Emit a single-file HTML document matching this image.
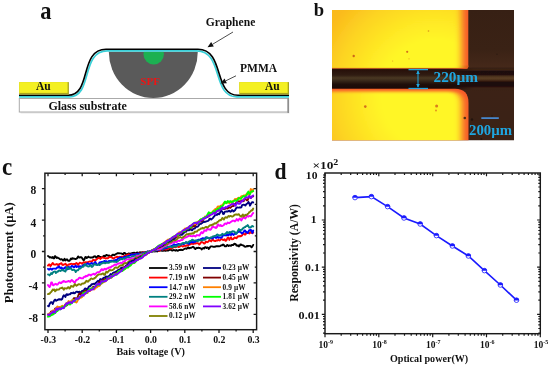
<!DOCTYPE html>
<html><head><meta charset="utf-8"><title>Figure</title>
<style>
html,body{margin:0;padding:0;background:#fff;}
body{width:550px;height:366px;overflow:hidden;}
svg{display:block;}
text{font-family:"Liberation Serif",serif;font-weight:bold;fill:#111;}
</style></head><body>
<svg width="550" height="366" viewBox="0 0 550 366">
<defs>
<radialGradient id="gold" gradientUnits="userSpaceOnUse" cx="435" cy="95" r="125">
<stop offset="0" stop-color="#fff626"/><stop offset="0.44" stop-color="#fff626"/><stop offset="0.64" stop-color="#fee424"/><stop offset="0.8" stop-color="#fdd422"/><stop offset="0.96" stop-color="#fbc01e"/><stop offset="1" stop-color="#faba1c"/>
</radialGradient>
<linearGradient id="dark" x1="0" y1="0" x2="0" y2="1">
<stop offset="0" stop-color="#372014"/><stop offset="0.3" stop-color="#3a2215"/><stop offset="0.45" stop-color="#46291a"/><stop offset="0.62" stop-color="#3c2216"/><stop offset="1" stop-color="#3a2216"/>
</linearGradient>
<linearGradient id="fib" x1="0" y1="0" x2="0" y2="1">
<stop offset="0" stop-color="#34160c"/><stop offset="0.1" stop-color="#28110a"/><stop offset="0.33" stop-color="#301c12"/><stop offset="0.46" stop-color="#4a3822"/><stop offset="0.58" stop-color="#39291a"/><stop offset="0.75" stop-color="#1f0f0a"/><stop offset="0.92" stop-color="#1a0a08"/><stop offset="1" stop-color="#2a0e08"/>
</linearGradient>
<linearGradient id="fibr" x1="0" y1="0" x2="0" y2="1">
<stop offset="0" stop-color="#40281a"/><stop offset="0.09" stop-color="#1f0d08"/><stop offset="0.25" stop-color="#200e08"/><stop offset="0.36" stop-color="#4a2f1b"/><stop offset="0.46" stop-color="#5c3f25"/><stop offset="0.57" stop-color="#4a2f1b"/><stop offset="0.7" stop-color="#1d0b07"/><stop offset="0.9" stop-color="#1d0b07"/><stop offset="1" stop-color="#3a2014"/>
</linearGradient>
<filter id="bt" x="-10%" y="-10%" width="120%" height="120%"><feGaussianBlur stdDeviation="3.8 0.65"/></filter>
<filter id="bb" x="-10%" y="-10%" width="120%" height="120%"><feGaussianBlur stdDeviation="3.8 1.6"/></filter>
<filter id="b05"><feGaussianBlur stdDeviation="0.5"/></filter>
<clipPath id="imgclip"><rect x="332" y="10" width="182" height="130.3"/></clipPath>
<clipPath id="cclip"><rect x="45.4" y="173.6" width="210.8" height="155.6"/></clipPath>
</defs>
<rect width="550" height="366" fill="#fff"/>

<g id="panel-a">
<text x="40.2" y="18.9" font-size="25" transform="translate(40.2 0) scale(0.9 1) translate(-40.2 0)">a</text>
<rect x="20.5" y="99.5" width="269" height="14" fill="#d8d8d8" opacity="0.6"/>
<rect x="19.3" y="98.5" width="268.8" height="13.5" fill="#fff" stroke="#aaa" stroke-width="1"/>
<line x1="288.2" y1="98" x2="288.2" y2="113" stroke="#888" stroke-width="1.4"/>
<text x="48.4" y="109.7" font-size="12">Glass substrate</text>
<path d="M108.8 51.8 A44.5 46.3 0 0 0 197.8 51.8 Z" fill="#5a5a5a"/>
<clipPath id="gclip"><rect x="140" y="51.8" width="30" height="20"/></clipPath>
<circle cx="153.7" cy="54.2" r="10.2" fill="#1cb052" clip-path="url(#gclip)"/>
<text x="140.3" y="85.2" font-size="11" style="fill:#ee1414">SPF</text>
<path d="M19 96.8 L69.3 96.8 C93.3 96.8 80.3 50.9 107.3 50.9 L196.7 50.9 C223.7 50.9 211.7 96.8 236.7 96.8 L289 96.8" fill="none" stroke="#39d0d8" stroke-width="1.7"/>
<path d="M19 95.3 L68.0 95.3 C92.0 95.3 79.0 49.3 106.0 49.3 L198.0 49.3 C225.0 49.3 213.0 95.3 238.0 95.3 L289 95.3" fill="none" stroke="#000" stroke-width="1.6"/>
<rect x="19.2" y="82.1" width="49.7" height="12.5" fill="#a8a41c"/>
<rect x="19.2" y="82.1" width="48.4" height="10.8" fill="#f4f022"/>
<rect x="239.3" y="82.1" width="49.7" height="12.5" fill="#a8a41c"/>
<rect x="239.3" y="82.1" width="48.4" height="10.8" fill="#f4f022"/>
<text x="36" y="90.4" font-size="11.5">Au</text>
<text x="265" y="90.4" font-size="11.5">Au</text>
<text transform="translate(205.7 25.5) scale(0.935 1)" font-size="12.4">Graphene</text>
<text x="240" y="72.1" font-size="11.5">PMMA</text>
<line x1="233" y1="32" x2="212.47" y2="44.32" stroke="#222" stroke-width="0.8"/>
<polygon points="207.5,47.3 211.14,42.09 213.81,46.55" fill="#111"/>
<line x1="236" y1="75.8" x2="225.71" y2="80.85" stroke="#222" stroke-width="0.8"/>
<polygon points="220.5,83.4 224.56,78.51 226.85,83.18" fill="#111"/>
</g>
<g id="panel-b">
<text x="313.8" y="16.4" font-size="18.6">b</text>
<g clip-path="url(#imgclip)">
<rect x="332" y="10" width="182" height="131" fill="url(#dark)"/>
<rect x="325" y="68.0" width="155" height="21.6" fill="url(#fib)"/>
<linearGradient id="fade" gradientUnits="userSpaceOnUse" x1="448" y1="0" x2="474" y2="0"><stop offset="0" stop-color="#000"/><stop offset="1" stop-color="#fff"/></linearGradient>
<mask id="fm" maskUnits="userSpaceOnUse" x="440" y="60" width="90" height="40"><rect x="440" y="60" width="90" height="40" fill="url(#fade)"/></mask>
<g mask="url(#fm)"><rect x="440" y="67.5" width="80" height="22.6" fill="url(#dark)"/><rect x="440" y="69.8" width="80" height="18" fill="url(#fibr)" filter="url(#b05)"/></g>
<clipPath id="gt"><path d="M320 0 H468.3 V66.8 Q468.3 68.8 466.3 68.8 H320 Z"/></clipPath>
<g clip-path="url(#gt)"><rect x="320" y="0" width="150" height="70" fill="#f65a2a"/>
<linearGradient id="brn" gradientUnits="userSpaceOnUse" x1="452" y1="0" x2="464" y2="0"><stop offset="0" stop-color="#a8561a"/><stop offset="1" stop-color="#e0561e"/></linearGradient>
<rect x="320" y="65.5" width="150" height="4" fill="url(#brn)"/>
<rect x="300" y="-20" width="161.8" height="87.9" fill="url(#gold)" filter="url(#bt)"/></g>
<clipPath id="gb"><path d="M320 88.8 H455 Q468.5 88.8 468.5 103 V150 H320 Z"/></clipPath>
<g clip-path="url(#gb)"><rect x="320" y="88" width="150" height="60" fill="#f65a2a"/>
<path d="M300 91.6 H449 Q461.8 91.6 461.8 104.5 V170 H300 Z" fill="url(#gold)" filter="url(#bb)"/></g>
<circle cx="353.7" cy="56" r="1.2" fill="#c04a18" opacity="0.8"/>
<circle cx="407.2" cy="51.8" r="1.1" fill="#c8501a" opacity="0.8"/>
<circle cx="428.5" cy="31" r="0.8" fill="#d0801a" opacity="0.8"/>
<circle cx="365.3" cy="106.6" r="1.3" fill="#c8501a" opacity="0.8"/>
<circle cx="436.6" cy="106" r="1.5" fill="#d0601a" opacity="0.8"/>
<circle cx="436" cy="110.5" r="0.9" fill="#d8701a" opacity="0.8"/>
<circle cx="464.8" cy="118" r="1.3" fill="#2a1a10" opacity="0.8"/>
<circle cx="472" cy="119.5" r="1.2" fill="#1e120c" opacity="0.8"/>
<circle cx="497" cy="54.3" r="0.8" fill="#2a1a10" opacity="0.8"/>
<circle cx="481.4" cy="139" r="1.0" fill="#22140c" opacity="0.8"/>
<circle cx="392.6" cy="61" r="0.6" fill="#e09020" opacity="0.8"/>
<circle cx="409" cy="58.8" r="0.6" fill="#e09020" opacity="0.8"/>
<circle cx="492" cy="116" r="0.7" fill="#22140c" opacity="0.8"/>
</g>
<g stroke="#1fa6e0" stroke-width="1.3" fill="none"><line x1="408.5" y1="69.6" x2="428" y2="69.6"/><line x1="408.5" y1="88.5" x2="428" y2="88.5"/><line x1="418" y1="71" x2="418" y2="87" stroke-width="1"/></g>
<polygon points="418,70.3 416.2,74 419.8,74" fill="#1fa6e0"/><polygon points="418,87.8 416.2,84.1 419.8,84.1" fill="#1fa6e0"/>
<text x="433.5" y="81.9" font-size="15.3" style="fill:#1fa6e0">220µm</text>
<line x1="481.3" y1="118.1" x2="498.8" y2="118.1" stroke="#4a92e0" stroke-width="1.6"/>
<text x="469" y="135" font-size="14.8" style="fill:#1fa6e0">200µm</text>
</g>
<g id="panel-c">
<text x="2" y="174.6" font-size="25" transform="translate(2 0) scale(0.92 1) translate(-2 0)">c</text>
<g clip-path="url(#cclip)" fill="none" stroke-linejoin="round" stroke-linecap="round">
<polyline points="48.0,256.0 48.8,256.5 49.6,257.5 50.4,257.2 51.2,257.5 52.0,257.8 52.8,257.0 53.5,258.3 54.3,258.2 55.1,256.1 55.9,257.0 56.7,258.0 57.5,257.5 58.3,258.1 59.1,258.4 59.9,259.2 60.7,259.5 61.5,259.1 62.3,259.7 63.1,260.6 63.8,259.7 64.6,258.8 65.4,260.5 66.2,259.7 67.0,259.2 67.8,260.4 68.6,260.9 69.4,260.9 70.2,259.8 71.0,258.5 71.8,259.2 72.6,258.2 73.4,258.6 74.1,258.7 74.9,258.8 75.7,259.0 76.5,258.7 77.3,258.0 78.1,256.4 78.9,257.3 79.7,257.5 80.5,257.2 81.3,257.2 82.1,258.1 82.9,259.4 83.7,260.4 84.4,259.4 85.2,257.2 86.0,257.0 86.8,258.1 87.6,257.4 88.4,256.6 89.2,257.4 90.0,257.4 90.8,257.7 91.6,257.4 92.4,257.6 93.2,257.2 94.0,256.5 94.7,256.3 95.5,256.4 96.3,257.7 97.1,257.2 97.9,256.0 98.7,255.9 99.5,256.8 100.3,257.0 101.1,257.2 101.9,257.1 102.7,256.8 103.5,256.1 104.3,255.7 105.0,256.3 105.8,255.3 106.6,255.0 107.4,255.3 108.2,255.8 109.0,255.5 109.8,255.8 110.6,256.6 111.4,256.1 112.2,255.1 113.0,254.7 113.8,255.0 114.6,255.0 115.3,254.4 116.1,254.0 116.9,253.6 117.7,253.2 118.5,253.1 119.3,253.3 120.1,253.4 120.9,253.4 121.7,253.7 122.5,254.0 123.3,254.1 124.1,252.9 124.9,253.0 125.6,253.9 126.4,254.3 127.2,254.2 128.0,253.8 128.8,253.4 129.6,253.6 130.4,253.7 131.2,253.4 132.0,253.2 132.8,253.0 133.6,252.8 134.4,252.8 135.2,253.3 135.9,253.2 136.7,252.6 137.5,252.5 138.3,252.9 139.1,252.8 139.9,252.2 140.7,252.4 141.5,252.4 142.3,252.2 143.1,252.4 143.9,252.8 144.7,252.4 145.5,252.0 146.2,252.2 147.0,252.0 147.8,251.8 148.6,252.0 149.4,251.8 150.2,251.9 151.0,251.9 151.8,251.7 152.6,251.5 153.4,251.2 154.2,251.2 155.0,251.5 155.7,251.1 156.5,251.1 157.3,251.5 158.1,251.0 158.9,250.8 159.7,250.5 160.5,250.5 161.3,250.7 162.1,250.9 162.9,250.8 163.7,250.5 164.5,250.6 165.3,250.7 166.0,250.7 166.8,250.5 167.6,250.6 168.4,250.5 169.2,249.9 170.0,249.8 170.8,249.6 171.6,250.3 172.4,250.6 173.2,250.1 174.0,250.0 174.8,250.4 175.6,250.7 176.3,249.9 177.1,250.5 177.9,250.8 178.7,250.1 179.5,249.9 180.3,250.0 181.1,249.7 181.9,250.1 182.7,250.0 183.5,249.4 184.3,249.0 185.1,248.4 185.9,248.7 186.6,248.9 187.4,248.0 188.2,247.3 189.0,248.3 189.8,248.0 190.6,247.8 191.4,247.8 192.2,247.3 193.0,246.8 193.8,247.3 194.6,248.5 195.4,249.1 196.2,248.1 196.9,247.8 197.7,248.1 198.5,247.6 199.3,248.0 200.1,248.1 200.9,248.3 201.7,249.5 202.5,248.5 203.3,247.9 204.1,248.6 204.9,247.3 205.7,247.3 206.5,248.0 207.2,247.4 208.0,247.6 208.8,248.9 209.6,247.9 210.4,246.7 211.2,246.4 212.0,246.4 212.8,246.6 213.6,246.9 214.4,246.8 215.2,246.7 216.0,246.3 216.8,246.2 217.5,246.2 218.3,246.1 219.1,246.3 219.9,246.1 220.7,245.7 221.5,245.3 222.3,245.3 223.1,244.5 223.9,244.9 224.7,246.2 225.5,246.2 226.3,246.3 227.1,244.9 227.8,245.3 228.6,246.0 229.4,245.5 230.2,245.5 231.0,245.8 231.8,245.0 232.6,244.8 233.4,245.0 234.2,243.8 235.0,243.9 235.8,244.4 236.6,245.6 237.4,245.7 238.1,245.2 238.9,246.4 239.7,245.6 240.5,244.4 241.3,244.6 242.1,245.1 242.9,245.3 243.7,245.7 244.5,246.5 245.3,246.7 246.1,246.6 246.9,245.9 247.7,246.4 248.4,245.9 249.2,245.9 250.0,245.9 250.8,246.3 251.6,247.3 252.4,246.4 253.2,244.9" stroke="#000000" stroke-width="1.9"/>
<polyline points="48.0,265.6 48.8,264.5 49.6,264.5 50.4,266.2 51.2,265.3 52.0,263.9 52.8,263.0 53.5,264.1 54.3,264.6 55.1,264.6 55.9,264.5 56.7,264.0 57.5,264.4 58.3,265.4 59.1,264.2 59.9,264.0 60.7,263.5 61.5,263.2 62.3,264.8 63.1,265.0 63.8,264.5 64.6,264.4 65.4,263.7 66.2,264.7 67.0,266.1 67.8,265.1 68.6,264.4 69.4,264.6 70.2,264.0 71.0,263.8 71.8,263.9 72.6,264.1 73.4,264.3 74.1,263.9 74.9,264.4 75.7,263.5 76.5,262.9 77.3,263.8 78.1,265.0 78.9,263.8 79.7,262.7 80.5,262.9 81.3,263.2 82.1,263.8 82.9,262.9 83.7,262.2 84.4,262.8 85.2,262.5 86.0,262.2 86.8,262.4 87.6,262.4 88.4,261.9 89.2,261.7 90.0,261.5 90.8,261.4 91.6,261.8 92.4,260.9 93.2,259.7 94.0,259.9 94.7,260.7 95.5,260.3 96.3,259.6 97.1,258.9 97.9,258.3 98.7,257.8 99.5,258.1 100.3,258.9 101.1,258.3 101.9,257.3 102.7,257.5 103.5,257.9 104.3,257.9 105.0,258.2 105.8,258.5 106.6,258.1 107.4,258.3 108.2,258.0 109.0,257.3 109.8,256.7 110.6,257.0 111.4,257.3 112.2,257.8 113.0,258.5 113.8,258.6 114.6,257.6 115.3,257.3 116.1,257.1 116.9,256.6 117.7,257.1 118.5,257.0 119.3,256.8 120.1,256.9 120.9,256.9 121.7,256.6 122.5,256.6 123.3,256.4 124.1,256.0 124.9,256.0 125.6,255.5 126.4,255.1 127.2,254.9 128.0,254.6 128.8,254.3 129.6,254.9 130.4,255.0 131.2,254.4 132.0,254.6 132.8,254.5 133.6,254.6 134.4,254.3 135.2,254.0 135.9,254.2 136.7,254.0 137.5,253.9 138.3,253.5 139.1,253.5 139.9,253.7 140.7,253.6 141.5,253.4 142.3,252.6 143.1,252.4 143.9,252.3 144.7,252.3 145.5,252.8 146.2,252.4 147.0,251.8 147.8,251.7 148.6,251.6 149.4,251.4 150.2,251.2 151.0,251.2 151.8,251.0 152.6,251.0 153.4,251.1 154.2,250.6 155.0,250.3 155.7,250.2 156.5,250.2 157.3,250.0 158.1,250.2 158.9,250.8 159.7,250.5 160.5,249.8 161.3,249.2 162.1,249.4 162.9,249.7 163.7,249.4 164.5,249.0 165.3,249.4 166.0,249.6 166.8,249.4 167.6,248.9 168.4,248.5 169.2,248.4 170.0,248.3 170.8,248.6 171.6,248.3 172.4,247.9 173.2,247.6 174.0,247.0 174.8,246.8 175.6,247.3 176.3,246.8 177.1,246.4 177.9,246.6 178.7,247.1 179.5,246.9 180.3,246.0 181.1,245.5 181.9,245.9 182.7,246.5 183.5,246.3 184.3,245.7 185.1,245.7 185.9,246.0 186.6,245.4 187.4,245.1 188.2,245.3 189.0,244.9 189.8,244.1 190.6,244.3 191.4,243.7 192.2,243.2 193.0,244.0 193.8,243.9 194.6,243.2 195.4,243.5 196.2,243.2 196.9,243.2 197.7,243.1 198.5,243.5 199.3,244.6 200.1,243.7 200.9,242.3 201.7,242.0 202.5,242.3 203.3,242.8 204.1,243.6 204.9,243.3 205.7,241.8 206.5,241.7 207.2,242.2 208.0,241.8 208.8,241.0 209.6,240.0 210.4,240.7 211.2,241.4 212.0,240.1 212.8,239.4 213.6,240.5 214.4,240.8 215.2,241.1 216.0,240.6 216.8,240.3 217.5,240.6 218.3,239.8 219.1,240.3 219.9,240.5 220.7,239.5 221.5,239.1 222.3,239.3 223.1,240.0 223.9,239.8 224.7,239.2 225.5,240.8 226.3,240.6 227.1,238.9 227.8,237.5 228.6,237.8 229.4,239.9 230.2,238.3 231.0,237.2 231.8,239.2 232.6,239.2 233.4,239.0 234.2,237.9 235.0,237.4 235.8,238.1 236.6,238.2 237.4,236.8 238.1,236.2 238.9,236.5 239.7,236.0 240.5,236.3 241.3,236.0 242.1,235.5 242.9,233.6 243.7,233.5 244.5,234.5 245.3,234.6 246.1,233.4 246.9,232.6 247.7,233.1 248.4,232.5 249.2,233.4 250.0,232.9 250.8,231.9 251.6,232.8 252.4,233.2 253.2,232.5" stroke="#ff0000" stroke-width="1.9"/>
<polyline points="48.0,268.8 48.8,269.6 49.6,269.5 50.4,268.4 51.2,269.1 52.0,269.7 52.8,268.6 53.5,268.6 54.3,268.6 55.1,268.6 55.9,268.7 56.7,268.0 57.5,267.2 58.3,267.5 59.1,266.3 59.9,267.8 60.7,268.1 61.5,267.4 62.3,268.6 63.1,268.7 63.8,268.9 64.6,267.8 65.4,267.1 66.2,268.2 67.0,269.5 67.8,267.9 68.6,266.7 69.4,267.7 70.2,267.9 71.0,266.9 71.8,265.9 72.6,266.1 73.4,267.0 74.1,267.3 74.9,266.4 75.7,265.6 76.5,267.0 77.3,266.7 78.1,266.4 78.9,267.1 79.7,266.2 80.5,266.4 81.3,266.8 82.1,266.3 82.9,265.5 83.7,264.8 84.4,264.6 85.2,265.4 86.0,265.3 86.8,263.9 87.6,263.2 88.4,263.8 89.2,264.3 90.0,263.9 90.8,263.6 91.6,262.9 92.4,263.6 93.2,264.2 94.0,263.3 94.7,262.5 95.5,262.1 96.3,264.0 97.1,264.6 97.9,264.5 98.7,263.9 99.5,262.5 100.3,262.3 101.1,262.4 101.9,261.9 102.7,261.8 103.5,261.6 104.3,260.9 105.0,261.3 105.8,261.2 106.6,261.3 107.4,261.9 108.2,261.8 109.0,260.9 109.8,261.1 110.6,260.9 111.4,260.7 112.2,261.1 113.0,261.1 113.8,260.5 114.6,260.5 115.3,260.1 116.1,259.8 116.9,260.0 117.7,258.8 118.5,258.4 119.3,258.1 120.1,257.5 120.9,257.5 121.7,258.1 122.5,258.1 123.3,257.9 124.1,257.0 124.9,256.7 125.6,256.9 126.4,257.2 127.2,256.5 128.0,256.0 128.8,255.9 129.6,255.7 130.4,255.4 131.2,254.4 132.0,254.5 132.8,254.7 133.6,254.8 134.4,254.3 135.2,254.3 135.9,254.1 136.7,254.2 137.5,254.1 138.3,253.5 139.1,253.9 139.9,254.2 140.7,254.1 141.5,253.6 142.3,253.7 143.1,253.0 143.9,252.7 144.7,252.7 145.5,252.6 146.2,252.3 147.0,251.8 147.8,251.5 148.6,251.7 149.4,251.5 150.2,251.5 151.0,251.2 151.8,251.2 152.6,251.4 153.4,250.8 154.2,250.4 155.0,250.5 155.7,250.3 156.5,250.3 157.3,250.3 158.1,249.7 158.9,249.8 159.7,249.5 160.5,249.0 161.3,248.9 162.1,249.6 162.9,249.1 163.7,248.3 164.5,248.6 165.3,248.1 166.0,247.9 166.8,248.0 167.6,247.2 168.4,247.1 169.2,246.9 170.0,246.6 170.8,246.3 171.6,245.9 172.4,245.8 173.2,245.0 174.0,244.3 174.8,245.0 175.6,244.9 176.3,244.7 177.1,244.6 177.9,244.2 178.7,244.0 179.5,244.1 180.3,244.6 181.1,244.5 181.9,243.7 182.7,243.8 183.5,244.3 184.3,243.8 185.1,242.9 185.9,242.2 186.6,242.9 187.4,243.2 188.2,243.5 189.0,243.9 189.8,242.8 190.6,242.3 191.4,241.8 192.2,242.0 193.0,242.6 193.8,242.0 194.6,241.8 195.4,241.7 196.2,241.1 196.9,240.5 197.7,240.1 198.5,239.7 199.3,240.0 200.1,239.5 200.9,239.0 201.7,239.3 202.5,238.1 203.3,238.2 204.1,239.4 204.9,238.6 205.7,237.4 206.5,237.7 207.2,238.0 208.0,238.2 208.8,238.1 209.6,238.6 210.4,238.0 211.2,237.8 212.0,238.5 212.8,238.4 213.6,237.3 214.4,236.5 215.2,237.5 216.0,238.0 216.8,237.3 217.5,236.5 218.3,237.9 219.1,237.6 219.9,237.4 220.7,237.8 221.5,237.5 222.3,236.8 223.1,235.0 223.9,234.9 224.7,235.4 225.5,235.4 226.3,235.5 227.1,234.3 227.8,235.0 228.6,235.3 229.4,233.9 230.2,234.2 231.0,235.1 231.8,233.2 232.6,233.9 233.4,235.0 234.2,234.1 235.0,233.4 235.8,233.8 236.6,233.5 237.4,232.1 238.1,232.0 238.9,231.1 239.7,231.9 240.5,231.8 241.3,232.8 242.1,233.6 242.9,232.7 243.7,232.0 244.5,230.4 245.3,230.7 246.1,232.4 246.9,232.2 247.7,233.1 248.4,231.7 249.2,230.3 250.0,230.2 250.8,229.7 251.6,231.1 252.4,232.9 253.2,230.6" stroke="#0000ff" stroke-width="1.9"/>
<polyline points="48.0,274.5 48.8,274.6 49.6,275.4 50.4,274.2 51.2,273.0 52.0,274.1 52.8,272.7 53.5,271.8 54.3,271.6 55.1,271.4 55.9,273.0 56.7,272.3 57.5,271.3 58.3,271.5 59.1,270.4 59.9,270.7 60.7,271.0 61.5,270.0 62.3,270.3 63.1,269.7 63.8,270.7 64.6,271.2 65.4,271.5 66.2,269.7 67.0,267.2 67.8,267.3 68.6,269.1 69.4,268.9 70.2,268.3 71.0,268.4 71.8,269.9 72.6,270.1 73.4,269.6 74.1,269.9 74.9,270.4 75.7,272.1 76.5,270.6 77.3,270.3 78.1,270.2 78.9,268.9 79.7,268.7 80.5,268.3 81.3,267.6 82.1,266.8 82.9,266.9 83.7,266.4 84.4,264.5 85.2,264.1 86.0,265.3 86.8,265.7 87.6,266.4 88.4,266.5 89.2,266.4 90.0,265.2 90.8,265.0 91.6,266.8 92.4,266.7 93.2,265.6 94.0,264.4 94.7,263.8 95.5,264.6 96.3,264.9 97.1,265.0 97.9,264.8 98.7,264.1 99.5,265.0 100.3,264.7 101.1,263.6 101.9,263.4 102.7,263.3 103.5,262.3 104.3,262.7 105.0,263.3 105.8,262.9 106.6,262.8 107.4,262.9 108.2,262.4 109.0,262.8 109.8,262.3 110.6,261.4 111.4,261.7 112.2,261.6 113.0,261.2 113.8,261.8 114.6,261.7 115.3,261.5 116.1,262.1 116.9,261.8 117.7,261.4 118.5,260.4 119.3,260.2 120.1,259.6 120.9,258.8 121.7,259.2 122.5,259.3 123.3,258.5 124.1,258.4 124.9,259.1 125.6,258.6 126.4,257.6 127.2,257.2 128.0,257.3 128.8,257.3 129.6,257.6 130.4,257.6 131.2,257.3 132.0,256.6 132.8,256.2 133.6,256.3 134.4,255.8 135.2,255.6 135.9,255.3 136.7,255.0 137.5,255.2 138.3,255.4 139.1,254.9 139.9,254.1 140.7,253.8 141.5,254.0 142.3,253.8 143.1,253.7 143.9,253.3 144.7,253.0 145.5,252.9 146.2,252.2 147.0,251.8 147.8,251.6 148.6,251.9 149.4,252.0 150.2,251.6 151.0,251.2 151.8,251.1 152.6,250.7 153.4,250.7 154.2,250.6 155.0,250.1 155.7,250.4 156.5,250.2 157.3,249.7 158.1,249.3 158.9,249.1 159.7,249.2 160.5,248.8 161.3,249.2 162.1,249.4 162.9,248.4 163.7,247.9 164.5,247.4 165.3,247.1 166.0,247.2 166.8,247.0 167.6,246.9 168.4,247.0 169.2,246.8 170.0,246.4 170.8,246.6 171.6,247.0 172.4,247.4 173.2,246.2 174.0,245.8 174.8,246.4 175.6,246.6 176.3,246.3 177.1,245.7 177.9,245.2 178.7,244.7 179.5,244.6 180.3,244.7 181.1,244.4 181.9,243.5 182.7,243.1 183.5,242.9 184.3,243.4 185.1,243.1 185.9,242.4 186.6,242.1 187.4,242.5 188.2,242.8 189.0,241.5 189.8,241.1 190.6,241.0 191.4,240.5 192.2,239.7 193.0,240.0 193.8,240.4 194.6,240.6 195.4,240.4 196.2,240.4 196.9,240.7 197.7,241.2 198.5,240.5 199.3,240.1 200.1,240.3 200.9,240.2 201.7,240.4 202.5,240.3 203.3,239.7 204.1,239.3 204.9,239.8 205.7,239.2 206.5,237.3 207.2,237.3 208.0,237.7 208.8,238.2 209.6,238.5 210.4,237.5 211.2,237.6 212.0,237.1 212.8,236.5 213.6,236.3 214.4,236.4 215.2,235.9 216.0,235.8 216.8,234.6 217.5,234.4 218.3,235.1 219.1,235.7 219.9,235.2 220.7,235.4 221.5,234.9 222.3,233.8 223.1,234.5 223.9,234.4 224.7,234.1 225.5,233.8 226.3,232.8 227.1,231.9 227.8,233.0 228.6,232.8 229.4,232.0 230.2,232.7 231.0,232.0 231.8,231.7 232.6,231.2 233.4,231.5 234.2,231.5 235.0,232.2 235.8,233.7 236.6,233.4 237.4,232.0 238.1,230.4 238.9,229.0 239.7,230.0 240.5,230.7 241.3,229.6 242.1,229.6 242.9,228.4 243.7,227.9 244.5,227.2 245.3,227.0 246.1,226.2 246.9,226.0 247.7,225.1 248.4,226.1 249.2,227.6 250.0,227.5 250.8,227.3 251.6,226.3 252.4,226.0 253.2,226.5" stroke="#008080" stroke-width="1.9"/>
<polyline points="48.0,285.1 48.8,286.3 49.6,287.0 50.4,285.5 51.2,282.5 52.0,282.4 52.8,285.1 53.5,285.4 54.3,284.4 55.1,284.3 55.9,283.8 56.7,284.7 57.5,284.5 58.3,283.6 59.1,282.6 59.9,282.3 60.7,283.2 61.5,283.0 62.3,281.6 63.1,281.9 63.8,280.9 64.6,281.6 65.4,282.0 66.2,281.7 67.0,281.7 67.8,281.3 68.6,280.9 69.4,281.3 70.2,281.9 71.0,280.7 71.8,279.9 72.6,280.8 73.4,281.5 74.1,282.4 74.9,282.5 75.7,280.9 76.5,280.0 77.3,279.7 78.1,279.2 78.9,278.1 79.7,277.7 80.5,277.9 81.3,278.4 82.1,278.4 82.9,278.4 83.7,277.1 84.4,276.8 85.2,276.9 86.0,275.7 86.8,276.2 87.6,275.9 88.4,274.7 89.2,274.8 90.0,274.8 90.8,275.5 91.6,274.8 92.4,274.2 93.2,274.1 94.0,273.7 94.7,274.8 95.5,274.1 96.3,273.1 97.1,272.4 97.9,272.2 98.7,272.3 99.5,271.9 100.3,271.2 101.1,269.8 101.9,269.1 102.7,270.2 103.5,270.1 104.3,268.8 105.0,268.6 105.8,269.5 106.6,268.9 107.4,268.1 108.2,268.4 109.0,267.5 109.8,267.3 110.6,267.6 111.4,266.7 112.2,266.1 113.0,265.8 113.8,265.4 114.6,264.7 115.3,264.5 116.1,265.0 116.9,264.3 117.7,263.8 118.5,263.5 119.3,263.4 120.1,263.0 120.9,262.6 121.7,263.3 122.5,262.9 123.3,261.5 124.1,261.4 124.9,261.1 125.6,260.1 126.4,259.6 127.2,259.4 128.0,259.3 128.8,259.3 129.6,259.5 130.4,258.9 131.2,258.2 132.0,258.3 132.8,258.6 133.6,258.3 134.4,257.9 135.2,257.5 135.9,257.2 136.7,256.2 137.5,255.9 138.3,256.2 139.1,256.0 139.9,255.3 140.7,254.8 141.5,254.6 142.3,254.8 143.1,254.9 143.9,254.4 144.7,253.9 145.5,253.8 146.2,253.8 147.0,253.0 147.8,252.7 148.6,252.7 149.4,252.1 150.2,251.6 151.0,251.3 151.8,251.0 152.6,250.4 153.4,250.2 154.2,250.2 155.0,249.7 155.7,249.1 156.5,249.2 157.3,249.6 158.1,249.2 158.9,249.2 159.7,249.1 160.5,248.9 161.3,248.5 162.1,247.6 162.9,247.2 163.7,246.6 164.5,246.2 165.3,246.1 166.0,245.7 166.8,245.2 167.6,245.0 168.4,244.3 169.2,243.4 170.0,243.3 170.8,243.7 171.6,243.4 172.4,242.3 173.2,242.1 174.0,242.5 174.8,241.9 175.6,241.5 176.3,242.2 177.1,241.8 177.9,240.7 178.7,240.7 179.5,241.0 180.3,240.6 181.1,240.0 181.9,240.1 182.7,239.6 183.5,238.6 184.3,238.0 185.1,237.2 185.9,237.5 186.6,237.2 187.4,236.6 188.2,236.2 189.0,235.8 189.8,235.7 190.6,236.0 191.4,236.1 192.2,236.3 193.0,236.0 193.8,235.7 194.6,236.1 195.4,236.5 196.2,235.6 196.9,235.0 197.7,235.4 198.5,235.3 199.3,235.6 200.1,234.5 200.9,232.8 201.7,232.1 202.5,233.2 203.3,232.6 204.1,230.8 204.9,230.1 205.7,230.8 206.5,230.7 207.2,228.8 208.0,228.9 208.8,229.5 209.6,229.4 210.4,229.8 211.2,229.0 212.0,227.5 212.8,226.3 213.6,227.0 214.4,227.5 215.2,227.1 216.0,228.1 216.8,227.4 217.5,225.2 218.3,224.5 219.1,225.8 219.9,225.9 220.7,225.0 221.5,226.1 222.3,226.0 223.1,225.5 223.9,224.9 224.7,223.6 225.5,223.4 226.3,224.2 227.1,223.3 227.8,222.5 228.6,223.0 229.4,223.2 230.2,222.3 231.0,221.8 231.8,221.4 232.6,220.6 233.4,220.7 234.2,220.8 235.0,221.4 235.8,220.6 236.6,219.1 237.4,219.7 238.1,220.7 238.9,219.4 239.7,218.4 240.5,219.3 241.3,220.5 242.1,219.3 242.9,217.4 243.7,217.6 244.5,217.8 245.3,218.5 246.1,217.4 246.9,215.5 247.7,216.2 248.4,216.7 249.2,215.9 250.0,216.1 250.8,216.3 251.6,215.4 252.4,213.9 253.2,213.0" stroke="#ff00ff" stroke-width="1.9"/>
<polyline points="48.0,294.1 48.8,293.8 49.6,293.7 50.4,292.6 51.2,292.0 52.0,290.9 52.8,289.4 53.5,290.0 54.3,289.4 55.1,291.3 55.9,290.6 56.7,289.4 57.5,289.7 58.3,289.6 59.1,289.5 59.9,288.3 60.7,288.1 61.5,288.1 62.3,287.5 63.1,288.7 63.8,289.8 64.6,288.3 65.4,288.4 66.2,288.5 67.0,288.5 67.8,287.4 68.6,287.1 69.4,288.5 70.2,287.9 71.0,286.0 71.8,286.1 72.6,286.6 73.4,286.7 74.1,285.3 74.9,284.1 75.7,285.0 76.5,285.8 77.3,285.3 78.1,284.5 78.9,284.1 79.7,284.3 80.5,284.8 81.3,284.5 82.1,283.5 82.9,283.6 83.7,283.6 84.4,282.8 85.2,282.7 86.0,281.2 86.8,280.8 87.6,281.7 88.4,281.5 89.2,280.1 90.0,279.9 90.8,278.6 91.6,278.5 92.4,279.0 93.2,278.8 94.0,278.7 94.7,277.9 95.5,277.8 96.3,276.4 97.1,275.8 97.9,274.8 98.7,274.5 99.5,274.4 100.3,274.4 101.1,274.3 101.9,274.0 102.7,273.4 103.5,273.7 104.3,274.9 105.0,274.6 105.8,272.3 106.6,271.8 107.4,272.5 108.2,271.7 109.0,270.6 109.8,270.0 110.6,270.3 111.4,270.4 112.2,270.2 113.0,269.7 113.8,269.2 114.6,268.0 115.3,267.5 116.1,267.5 116.9,267.8 117.7,267.7 118.5,267.0 119.3,266.2 120.1,265.7 120.9,265.3 121.7,265.4 122.5,265.6 123.3,264.4 124.1,263.5 124.9,263.0 125.6,263.2 126.4,263.6 127.2,262.8 128.0,262.1 128.8,261.4 129.6,261.1 130.4,260.4 131.2,260.2 132.0,260.3 132.8,260.1 133.6,259.6 134.4,259.1 135.2,258.6 135.9,257.3 136.7,257.6 137.5,258.0 138.3,257.2 139.1,256.8 139.9,256.4 140.7,256.0 141.5,255.8 142.3,255.2 143.1,254.8 143.9,254.2 144.7,253.8 145.5,253.7 146.2,253.7 147.0,253.5 147.8,252.6 148.6,252.2 149.4,252.0 150.2,251.9 151.0,251.4 151.8,250.8 152.6,251.0 153.4,250.9 154.2,249.9 155.0,249.5 155.7,249.3 156.5,248.7 157.3,248.4 158.1,248.1 158.9,247.9 159.7,247.5 160.5,247.2 161.3,246.9 162.1,246.5 162.9,245.6 163.7,245.1 164.5,245.4 165.3,245.1 166.0,244.4 166.8,244.3 167.6,244.0 168.4,243.0 169.2,242.4 170.0,242.2 170.8,242.2 171.6,241.6 172.4,241.1 173.2,240.5 174.0,240.2 174.8,240.5 175.6,240.2 176.3,239.7 177.1,239.0 177.9,238.0 178.7,237.7 179.5,237.5 180.3,236.9 181.1,237.5 181.9,238.0 182.7,237.5 183.5,236.8 184.3,236.3 185.1,235.7 185.9,234.9 186.6,234.2 187.4,234.1 188.2,234.4 189.0,233.9 189.8,233.7 190.6,233.7 191.4,233.8 192.2,233.1 193.0,233.6 193.8,233.3 194.6,231.8 195.4,231.7 196.2,231.7 196.9,231.5 197.7,230.6 198.5,229.8 199.3,229.8 200.1,229.2 200.9,228.4 201.7,228.6 202.5,227.8 203.3,228.5 204.1,228.0 204.9,227.6 205.7,226.9 206.5,227.0 207.2,227.5 208.0,227.2 208.8,226.3 209.6,225.6 210.4,225.2 211.2,225.4 212.0,224.9 212.8,224.4 213.6,224.5 214.4,223.3 215.2,223.1 216.0,223.6 216.8,222.9 217.5,221.9 218.3,221.7 219.1,220.5 219.9,220.1 220.7,220.4 221.5,219.5 222.3,217.9 223.1,218.7 223.9,219.5 224.7,218.0 225.5,217.3 226.3,217.4 227.1,217.8 227.8,216.8 228.6,215.9 229.4,216.7 230.2,215.9 231.0,215.9 231.8,216.5 232.6,216.6 233.4,216.0 234.2,215.1 235.0,214.6 235.8,214.4 236.6,214.5 237.4,214.8 238.1,214.4 238.9,214.1 239.7,215.6 240.5,216.0 241.3,216.7 242.1,215.3 242.9,214.5 243.7,216.6 244.5,215.9 245.3,214.7 246.1,215.2 246.9,214.7 247.7,213.9 248.4,213.6 249.2,212.2 250.0,211.8 250.8,211.0 251.6,210.3 252.4,210.3 253.2,208.5" stroke="#808000" stroke-width="1.9"/>
<polyline points="48.0,305.9 48.8,306.3 49.6,304.0 50.4,302.7 51.2,302.1 52.0,302.6 52.8,304.0 53.5,302.0 54.3,300.4 55.1,299.6 55.9,300.8 56.7,300.4 57.5,300.0 58.3,299.7 59.1,299.1 59.9,299.6 60.7,299.3 61.5,299.7 62.3,298.8 63.1,296.3 63.8,295.3 64.6,296.0 65.4,297.0 66.2,294.6 67.0,294.2 67.8,295.0 68.6,294.4 69.4,294.3 70.2,294.3 71.0,292.9 71.8,293.2 72.6,293.1 73.4,292.4 74.1,293.4 74.9,293.1 75.7,292.3 76.5,291.6 77.3,291.6 78.1,292.4 78.9,291.9 79.7,291.7 80.5,293.0 81.3,292.0 82.1,290.9 82.9,290.8 83.7,290.6 84.4,289.4 85.2,288.4 86.0,288.6 86.8,289.6 87.6,289.1 88.4,287.4 89.2,286.2 90.0,286.2 90.8,285.5 91.6,284.2 92.4,284.3 93.2,283.9 94.0,283.8 94.7,284.1 95.5,283.1 96.3,282.7 97.1,281.7 97.9,280.8 98.7,281.1 99.5,280.3 100.3,279.1 101.1,279.5 101.9,279.2 102.7,278.8 103.5,277.8 104.3,277.6 105.0,277.9 105.8,276.4 106.6,276.6 107.4,277.1 108.2,276.3 109.0,276.3 109.8,275.2 110.6,274.0 111.4,274.4 112.2,274.2 113.0,272.9 113.8,272.5 114.6,272.4 115.3,271.9 116.1,271.5 116.9,271.2 117.7,270.3 118.5,269.9 119.3,269.6 120.1,269.3 120.9,268.1 121.7,267.7 122.5,268.1 123.3,267.6 124.1,267.7 124.9,266.8 125.6,266.1 126.4,265.5 127.2,265.0 128.0,264.1 128.8,263.0 129.6,262.1 130.4,262.2 131.2,261.8 132.0,260.8 132.8,260.9 133.6,260.9 134.4,260.2 135.2,259.1 135.9,258.8 136.7,259.0 137.5,258.6 138.3,258.2 139.1,258.0 139.9,257.2 140.7,256.5 141.5,256.6 142.3,256.3 143.1,255.3 143.9,255.0 144.7,254.5 145.5,253.8 146.2,253.4 147.0,252.8 147.8,252.9 148.6,252.6 149.4,252.1 150.2,251.6 151.0,250.8 151.8,250.4 152.6,250.4 153.4,250.2 154.2,250.0 155.0,249.4 155.7,248.9 156.5,248.4 157.3,247.6 158.1,247.2 158.9,247.0 159.7,247.2 160.5,246.6 161.3,246.0 162.1,246.0 162.9,245.6 163.7,244.7 164.5,244.0 165.3,243.3 166.0,243.0 166.8,242.0 167.6,241.9 168.4,241.9 169.2,241.3 170.0,241.0 170.8,240.6 171.6,239.8 172.4,239.0 173.2,239.1 174.0,239.1 174.8,238.5 175.6,237.2 176.3,236.8 177.1,236.3 177.9,235.6 178.7,235.3 179.5,234.8 180.3,234.6 181.1,234.9 181.9,234.8 182.7,233.9 183.5,233.4 184.3,232.1 185.1,231.9 185.9,231.8 186.6,230.9 187.4,230.1 188.2,230.3 189.0,230.4 189.8,229.2 190.6,229.4 191.4,230.2 192.2,230.4 193.0,229.0 193.8,228.6 194.6,228.6 195.4,227.6 196.2,226.6 196.9,226.9 197.7,226.6 198.5,225.8 199.3,224.5 200.1,223.9 200.9,223.9 201.7,223.3 202.5,222.7 203.3,221.5 204.1,222.1 204.9,221.7 205.7,221.8 206.5,221.3 207.2,221.1 208.0,220.9 208.8,220.3 209.6,218.8 210.4,218.7 211.2,219.6 212.0,218.9 212.8,218.1 213.6,217.0 214.4,216.2 215.2,214.8 216.0,214.6 216.8,215.0 217.5,214.2 218.3,213.6 219.1,214.3 219.9,213.0 220.7,210.8 221.5,210.9 222.3,211.8 223.1,214.0 223.9,213.9 224.7,211.9 225.5,211.7 226.3,211.4 227.1,211.5 227.8,211.6 228.6,211.0 229.4,210.7 230.2,211.8 231.0,211.6 231.8,210.1 232.6,210.2 233.4,211.5 234.2,210.9 235.0,210.3 235.8,208.8 236.6,207.5 237.4,207.5 238.1,207.6 238.9,207.6 239.7,207.3 240.5,207.6 241.3,207.3 242.1,205.2 242.9,204.9 243.7,204.7 244.5,204.9 245.3,205.6 246.1,204.4 246.9,203.7 247.7,203.2 248.4,201.9 249.2,203.3 250.0,205.7 250.8,204.0 251.6,202.6 252.4,202.2 253.2,202.5" stroke="#000080" stroke-width="1.9"/>
<polyline points="48.0,314.8 48.8,314.8 49.6,314.9 50.4,313.0 51.2,311.4 52.0,311.4 52.8,313.8 53.5,314.0 54.3,311.1 55.1,308.6 55.9,308.3 56.7,308.6 57.5,309.1 58.3,309.3 59.1,307.5 59.9,307.3 60.7,308.6 61.5,307.6 62.3,306.3 63.1,308.1 63.8,308.0 64.6,306.0 65.4,304.5 66.2,305.6 67.0,305.1 67.8,303.4 68.6,303.2 69.4,303.3 70.2,303.3 71.0,301.8 71.8,300.6 72.6,300.3 73.4,299.1 74.1,298.0 74.9,299.2 75.7,298.2 76.5,298.9 77.3,298.3 78.1,296.0 78.9,294.0 79.7,293.5 80.5,294.4 81.3,293.3 82.1,293.2 82.9,293.6 83.7,292.1 84.4,291.1 85.2,291.0 86.0,290.4 86.8,291.2 87.6,291.2 88.4,291.0 89.2,290.5 90.0,289.6 90.8,289.1 91.6,289.2 92.4,287.8 93.2,286.7 94.0,287.0 94.7,287.4 95.5,286.3 96.3,285.6 97.1,285.3 97.9,284.6 98.7,283.0 99.5,281.9 100.3,281.5 101.1,281.6 101.9,281.4 102.7,279.9 103.5,279.7 104.3,280.5 105.0,279.4 105.8,278.7 106.6,279.5 107.4,278.6 108.2,278.7 109.0,278.6 109.8,277.7 110.6,277.4 111.4,277.6 112.2,276.5 113.0,275.1 113.8,275.1 114.6,275.3 115.3,274.1 116.1,273.4 116.9,272.7 117.7,271.9 118.5,271.9 119.3,271.4 120.1,270.5 120.9,269.6 121.7,269.7 122.5,269.6 123.3,268.3 124.1,267.1 124.9,267.0 125.6,266.7 126.4,266.5 127.2,266.6 128.0,265.7 128.8,265.0 129.6,264.8 130.4,264.6 131.2,264.1 132.0,263.1 132.8,262.8 133.6,262.3 134.4,261.7 135.2,260.9 135.9,260.3 136.7,259.4 137.5,258.9 138.3,258.7 139.1,258.8 139.9,258.4 140.7,257.6 141.5,257.2 142.3,256.7 143.1,256.6 143.9,255.5 144.7,255.1 145.5,254.7 146.2,254.1 147.0,253.6 147.8,253.2 148.6,252.8 149.4,252.4 150.2,251.6 151.0,251.0 151.8,250.8 152.6,250.3 153.4,249.7 154.2,249.2 155.0,249.1 155.7,248.6 156.5,248.4 157.3,248.0 158.1,247.3 158.9,246.6 159.7,246.1 160.5,245.8 161.3,245.5 162.1,245.0 162.9,244.3 163.7,243.9 164.5,243.4 165.3,242.7 166.0,241.8 166.8,241.1 167.6,240.6 168.4,240.1 169.2,239.8 170.0,239.3 170.8,238.8 171.6,238.8 172.4,238.3 173.2,238.3 174.0,237.6 174.8,236.5 175.6,236.8 176.3,236.7 177.1,236.2 177.9,235.7 178.7,235.0 179.5,233.9 180.3,233.3 181.1,232.7 181.9,232.6 182.7,231.6 183.5,230.6 184.3,231.3 185.1,231.3 185.9,230.4 186.6,229.7 187.4,228.6 188.2,227.6 189.0,227.4 189.8,227.6 190.6,228.2 191.4,227.5 192.2,226.8 193.0,226.3 193.8,226.0 194.6,226.3 195.4,225.0 196.2,224.1 196.9,223.6 197.7,223.4 198.5,222.7 199.3,222.4 200.1,221.2 200.9,221.3 201.7,221.2 202.5,220.6 203.3,219.8 204.1,218.2 204.9,217.5 205.7,216.9 206.5,216.8 207.2,217.1 208.0,216.7 208.8,214.5 209.6,215.7 210.4,214.7 211.2,213.2 212.0,213.4 212.8,213.0 213.6,213.0 214.4,212.4 215.2,212.2 216.0,211.6 216.8,210.9 217.5,210.7 218.3,210.3 219.1,209.9 219.9,209.5 220.7,208.6 221.5,207.3 222.3,207.6 223.1,209.0 223.9,208.7 224.7,209.2 225.5,208.3 226.3,207.9 227.1,208.4 227.8,208.5 228.6,207.4 229.4,207.2 230.2,207.9 231.0,207.2 231.8,206.4 232.6,206.2 233.4,206.0 234.2,203.9 235.0,204.3 235.8,203.4 236.6,202.2 237.4,202.1 238.1,201.4 238.9,201.2 239.7,201.4 240.5,201.8 241.3,200.7 242.1,200.2 242.9,201.4 243.7,201.2 244.5,198.8 245.3,198.7 246.1,199.6 246.9,200.4 247.7,200.1 248.4,198.1 249.2,197.1 250.0,197.2 250.8,197.8 251.6,197.0 252.4,196.2 253.2,196.3" stroke="#800000" stroke-width="1.9"/>
<polyline points="48.0,314.3 48.8,313.7 49.6,313.7 50.4,312.8 51.2,313.5 52.0,312.0 52.8,310.5 53.5,310.8 54.3,310.4 55.1,310.0 55.9,308.8 56.7,307.3 57.5,306.4 58.3,307.4 59.1,307.3 59.9,307.0 60.7,306.9 61.5,306.4 62.3,305.7 63.1,307.4 63.8,306.2 64.6,305.7 65.4,304.8 66.2,303.1 67.0,303.1 67.8,302.4 68.6,301.1 69.4,301.5 70.2,303.2 71.0,301.7 71.8,300.8 72.6,299.9 73.4,299.9 74.1,300.3 74.9,301.5 75.7,302.2 76.5,302.5 77.3,301.2 78.1,299.5 78.9,298.9 79.7,298.3 80.5,297.4 81.3,297.5 82.1,296.9 82.9,295.8 83.7,294.4 84.4,293.9 85.2,294.1 86.0,292.1 86.8,292.9 87.6,293.0 88.4,291.1 89.2,290.7 90.0,291.1 90.8,290.2 91.6,289.0 92.4,288.5 93.2,288.9 94.0,289.6 94.7,289.1 95.5,287.8 96.3,287.6 97.1,287.2 97.9,286.3 98.7,286.1 99.5,285.9 100.3,284.7 101.1,283.6 101.9,283.4 102.7,282.8 103.5,282.0 104.3,281.8 105.0,281.7 105.8,280.8 106.6,280.3 107.4,279.5 108.2,278.8 109.0,277.8 109.8,277.2 110.6,276.7 111.4,276.5 112.2,276.8 113.0,275.1 113.8,274.4 114.6,274.5 115.3,273.9 116.1,273.7 116.9,273.7 117.7,273.0 118.5,271.9 119.3,271.1 120.1,270.9 120.9,270.4 121.7,270.8 122.5,270.5 123.3,269.9 124.1,269.3 124.9,268.7 125.6,268.1 126.4,267.7 127.2,267.3 128.0,266.4 128.8,265.8 129.6,265.3 130.4,264.7 131.2,263.6 132.0,263.4 132.8,263.4 133.6,263.2 134.4,262.9 135.2,262.0 135.9,260.8 136.7,259.8 137.5,259.3 138.3,259.5 139.1,259.1 139.9,258.6 140.7,258.2 141.5,257.7 142.3,257.1 143.1,256.0 143.9,255.1 144.7,254.9 145.5,254.8 146.2,254.6 147.0,254.3 147.8,253.1 148.6,252.3 149.4,252.0 150.2,251.7 151.0,250.9 151.8,250.6 152.6,250.4 153.4,249.4 154.2,249.0 155.0,249.0 155.7,248.3 156.5,247.5 157.3,247.1 158.1,247.0 158.9,246.4 159.7,245.6 160.5,245.3 161.3,245.1 162.1,244.6 162.9,243.7 163.7,242.9 164.5,242.2 165.3,242.0 166.0,241.5 166.8,240.6 167.6,239.8 168.4,239.5 169.2,240.0 170.0,239.7 170.8,238.7 171.6,238.2 172.4,237.6 173.2,237.1 174.0,236.6 174.8,236.2 175.6,235.4 176.3,235.2 177.1,235.7 177.9,235.4 178.7,233.2 179.5,232.2 180.3,232.6 181.1,232.1 181.9,231.8 182.7,231.3 183.5,230.6 184.3,229.3 185.1,228.4 185.9,228.7 186.6,228.6 187.4,227.8 188.2,227.5 189.0,227.2 189.8,226.3 190.6,225.9 191.4,225.3 192.2,224.8 193.0,224.1 193.8,223.8 194.6,224.3 195.4,224.0 196.2,222.6 196.9,222.3 197.7,222.4 198.5,221.4 199.3,220.9 200.1,220.3 200.9,219.5 201.7,219.4 202.5,218.9 203.3,219.2 204.1,218.1 204.9,216.6 205.7,217.0 206.5,216.3 207.2,215.4 208.0,215.9 208.8,215.0 209.6,214.4 210.4,214.4 211.2,212.7 212.0,212.6 212.8,211.6 213.6,210.7 214.4,210.0 215.2,209.0 216.0,208.8 216.8,208.3 217.5,206.9 218.3,206.4 219.1,206.8 219.9,206.2 220.7,205.7 221.5,205.5 222.3,205.1 223.1,204.2 223.9,203.0 224.7,202.7 225.5,203.2 226.3,202.7 227.1,202.6 227.8,202.6 228.6,202.7 229.4,203.1 230.2,202.0 231.0,202.5 231.8,202.9 232.6,201.2 233.4,200.8 234.2,200.4 235.0,199.0 235.8,199.1 236.6,199.0 237.4,198.6 238.1,197.9 238.9,197.7 239.7,198.8 240.5,197.3 241.3,196.3 242.1,196.2 242.9,196.1 243.7,195.5 244.5,195.3 245.3,196.2 246.1,194.7 246.9,193.5 247.7,194.3 248.4,194.6 249.2,194.9 250.0,192.5 250.8,189.0 251.6,190.5 252.4,191.7 253.2,189.3" stroke="#ff8000" stroke-width="1.9"/>
<polyline points="48.0,316.7 48.8,316.5 49.6,316.4 50.4,315.8 51.2,315.2 52.0,314.6 52.8,314.7 53.5,314.0 54.3,312.9 55.1,313.1 55.9,312.1 56.7,311.2 57.5,311.1 58.3,309.8 59.1,308.6 59.9,309.5 60.7,308.8 61.5,307.8 62.3,306.7 63.1,307.1 63.8,307.2 64.6,306.6 65.4,306.4 66.2,305.1 67.0,304.5 67.8,304.3 68.6,304.0 69.4,304.4 70.2,304.5 71.0,303.3 71.8,303.2 72.6,301.2 73.4,300.5 74.1,301.7 74.9,300.6 75.7,299.0 76.5,299.4 77.3,298.3 78.1,298.5 78.9,298.3 79.7,296.7 80.5,296.8 81.3,296.1 82.1,295.0 82.9,293.7 83.7,292.8 84.4,292.5 85.2,292.2 86.0,292.7 86.8,292.7 87.6,291.2 88.4,290.4 89.2,289.6 90.0,288.9 90.8,288.6 91.6,288.6 92.4,288.6 93.2,287.9 94.0,287.9 94.7,287.0 95.5,286.0 96.3,285.8 97.1,285.1 97.9,284.8 98.7,284.5 99.5,284.8 100.3,284.2 101.1,283.2 101.9,282.7 102.7,281.8 103.5,281.9 104.3,280.8 105.0,280.7 105.8,280.1 106.6,279.6 107.4,279.1 108.2,278.2 109.0,277.6 109.8,277.0 110.6,277.0 111.4,277.2 112.2,276.6 113.0,275.0 113.8,275.2 114.6,274.8 115.3,274.2 116.1,274.9 116.9,274.6 117.7,272.3 118.5,271.4 119.3,271.1 120.1,270.9 120.9,271.0 121.7,271.2 122.5,270.8 123.3,269.9 124.1,269.6 124.9,269.2 125.6,268.3 126.4,266.9 127.2,267.4 128.0,267.6 128.8,266.6 129.6,265.9 130.4,265.8 131.2,264.6 132.0,263.3 132.8,263.0 133.6,263.0 134.4,262.8 135.2,262.1 135.9,261.4 136.7,260.4 137.5,260.0 138.3,259.2 139.1,258.8 139.9,258.4 140.7,258.1 141.5,257.3 142.3,256.5 143.1,255.5 143.9,254.9 144.7,255.0 145.5,254.3 146.2,253.5 147.0,253.7 147.8,253.2 148.6,252.3 149.4,251.6 150.2,251.4 151.0,251.2 151.8,250.7 152.6,250.3 153.4,249.9 154.2,249.3 155.0,248.9 155.7,248.1 156.5,247.7 157.3,247.1 158.1,246.1 158.9,245.5 159.7,245.1 160.5,244.9 161.3,244.2 162.1,244.0 162.9,244.0 163.7,243.6 164.5,242.7 165.3,242.5 166.0,242.3 166.8,241.8 167.6,241.3 168.4,240.7 169.2,240.0 170.0,239.2 170.8,239.1 171.6,238.6 172.4,237.5 173.2,236.7 174.0,236.8 174.8,236.2 175.6,235.7 176.3,235.0 177.1,234.8 177.9,235.1 178.7,234.2 179.5,233.8 180.3,232.9 181.1,232.3 181.9,231.7 182.7,231.4 183.5,231.4 184.3,231.1 185.1,230.6 185.9,229.3 186.6,228.6 187.4,228.7 188.2,228.2 189.0,226.9 189.8,226.4 190.6,227.5 191.4,226.3 192.2,224.8 193.0,223.8 193.8,223.3 194.6,222.8 195.4,222.8 196.2,222.8 196.9,222.7 197.7,223.1 198.5,223.1 199.3,221.8 200.1,219.7 200.9,219.2 201.7,219.2 202.5,218.7 203.3,218.0 204.1,217.9 204.9,217.4 205.7,216.8 206.5,216.7 207.2,215.3 208.0,213.8 208.8,212.3 209.6,213.0 210.4,213.1 211.2,213.1 212.0,213.0 212.8,212.1 213.6,211.1 214.4,211.5 215.2,210.9 216.0,209.9 216.8,210.7 217.5,209.0 218.3,208.4 219.1,208.2 219.9,207.9 220.7,206.3 221.5,206.7 222.3,206.3 223.1,205.4 223.9,203.9 224.7,201.7 225.5,201.6 226.3,203.2 227.1,202.6 227.8,201.0 228.6,201.5 229.4,202.2 230.2,201.2 231.0,201.2 231.8,202.4 232.6,201.7 233.4,201.7 234.2,200.7 235.0,200.2 235.8,200.6 236.6,201.2 237.4,200.3 238.1,199.1 238.9,198.0 239.7,198.2 240.5,198.9 241.3,198.4 242.1,197.3 242.9,196.4 243.7,196.0 244.5,196.9 245.3,196.9 246.1,195.4 246.9,194.7 247.7,192.7 248.4,191.6 249.2,193.5 250.0,194.2 250.8,192.4 251.6,191.5 252.4,191.4 253.2,191.1" stroke="#00ff00" stroke-width="1.9"/>
<polyline points="48.0,314.4 48.8,314.8 49.6,315.1 50.4,313.5 51.2,313.2 52.0,312.8 52.8,311.5 53.5,311.2 54.3,312.3 55.1,312.5 55.9,309.6 56.7,308.4 57.5,309.9 58.3,308.9 59.1,308.3 59.9,308.3 60.7,309.3 61.5,308.8 62.3,307.7 63.1,308.2 63.8,307.7 64.6,306.3 65.4,305.1 66.2,303.5 67.0,303.1 67.8,303.9 68.6,302.3 69.4,302.9 70.2,302.3 71.0,302.3 71.8,303.1 72.6,302.0 73.4,300.9 74.1,301.0 74.9,300.6 75.7,299.1 76.5,298.3 77.3,298.6 78.1,298.9 78.9,298.3 79.7,297.1 80.5,296.1 81.3,295.7 82.1,294.8 82.9,295.4 83.7,295.6 84.4,293.9 85.2,293.4 86.0,293.3 86.8,291.9 87.6,291.2 88.4,291.3 89.2,291.0 90.0,290.5 90.8,289.8 91.6,289.4 92.4,289.5 93.2,289.2 94.0,288.1 94.7,287.0 95.5,286.4 96.3,285.4 97.1,284.3 97.9,284.3 98.7,283.6 99.5,284.6 100.3,283.9 101.1,281.7 101.9,281.2 102.7,281.5 103.5,281.6 104.3,281.2 105.0,280.7 105.8,281.1 106.6,280.3 107.4,278.5 108.2,278.4 109.0,278.4 109.8,278.0 110.6,276.9 111.4,276.2 112.2,276.4 113.0,276.3 113.8,275.7 114.6,274.6 115.3,274.2 116.1,274.5 116.9,274.2 117.7,273.6 118.5,273.1 119.3,272.5 120.1,271.8 120.9,271.4 121.7,270.5 122.5,269.7 123.3,268.5 124.1,267.7 124.9,267.4 125.6,267.0 126.4,266.5 127.2,265.9 128.0,265.9 128.8,265.0 129.6,263.8 130.4,263.0 131.2,263.2 132.0,262.7 132.8,262.4 133.6,262.1 134.4,261.9 135.2,261.2 135.9,260.1 136.7,260.0 137.5,260.2 138.3,259.6 139.1,258.7 139.9,258.5 140.7,258.2 141.5,258.3 142.3,257.6 143.1,256.6 143.9,255.6 144.7,255.2 145.5,255.2 146.2,254.4 147.0,253.6 147.8,253.1 148.6,252.6 149.4,252.2 150.2,251.9 151.0,251.5 151.8,250.6 152.6,250.4 153.4,250.1 154.2,249.5 155.0,249.2 155.7,248.9 156.5,248.3 157.3,247.4 158.1,246.7 158.9,246.0 159.7,245.6 160.5,245.7 161.3,245.5 162.1,244.8 162.9,243.7 163.7,243.3 164.5,243.3 165.3,243.0 166.0,241.7 166.8,241.0 167.6,240.6 168.4,240.5 169.2,240.2 170.0,239.5 170.8,239.2 171.6,238.1 172.4,237.5 173.2,237.4 174.0,236.6 174.8,236.1 175.6,236.4 176.3,235.2 177.1,234.0 177.9,233.5 178.7,233.7 179.5,233.7 180.3,233.1 181.1,232.5 181.9,231.7 182.7,230.7 183.5,230.1 184.3,230.1 185.1,230.0 185.9,228.9 186.6,228.4 187.4,228.1 188.2,228.0 189.0,227.2 189.8,226.0 190.6,225.9 191.4,225.4 192.2,224.6 193.0,223.9 193.8,223.3 194.6,223.0 195.4,222.9 196.2,222.7 196.9,223.7 197.7,223.2 198.5,221.7 199.3,221.6 200.1,221.3 200.9,220.6 201.7,220.0 202.5,219.7 203.3,218.5 204.1,218.4 204.9,218.4 205.7,218.1 206.5,216.9 207.2,216.8 208.0,216.3 208.8,215.5 209.6,215.3 210.4,214.9 211.2,214.6 212.0,214.4 212.8,213.9 213.6,212.5 214.4,213.5 215.2,213.9 216.0,212.7 216.8,211.1 217.5,210.9 218.3,210.8 219.1,210.3 219.9,209.7 220.7,209.7 221.5,208.6 222.3,207.4 223.1,208.5 223.9,208.7 224.7,208.0 225.5,207.0 226.3,207.5 227.1,206.9 227.8,206.3 228.6,206.0 229.4,205.4 230.2,205.3 231.0,204.6 231.8,204.2 232.6,204.1 233.4,203.4 234.2,204.2 235.0,205.9 235.8,205.5 236.6,203.6 237.4,202.2 238.1,203.6 238.9,203.8 239.7,203.9 240.5,203.0 241.3,201.3 242.1,201.4 242.9,200.6 243.7,200.1 244.5,198.6 245.3,198.3 246.1,197.4 246.9,197.1 247.7,197.3 248.4,197.6 249.2,195.9 250.0,196.4 250.8,198.1 251.6,197.1 252.4,196.2 253.2,195.5" stroke="#8000ff" stroke-width="1.9"/>
</g>
<rect x="44.9" y="173.2" width="211.70000000000002" height="156.5" fill="none" stroke="#1a1a1a" stroke-width="1.45"/>
<path d="M48.0 329.7 v3.2 M48.0 173.2 v3.0 M65.1 329.7 v1.8 M65.1 173.2 v1.8 M82.2 329.7 v3.2 M82.2 173.2 v3.0 M99.3 329.7 v1.8 M99.3 173.2 v1.8 M116.4 329.7 v3.2 M116.4 173.2 v3.0 M133.5 329.7 v1.8 M133.5 173.2 v1.8 M150.6 329.7 v3.2 M150.6 173.2 v3.0 M167.7 329.7 v1.8 M167.7 173.2 v1.8 M184.8 329.7 v3.2 M184.8 173.2 v3.0 M201.9 329.7 v1.8 M201.9 173.2 v1.8 M219.0 329.7 v3.2 M219.0 173.2 v3.0 M236.1 329.7 v1.8 M236.1 173.2 v1.8 M253.2 329.7 v3.2 M253.2 173.2 v3.0 M44.9 314.3 h-3.0 M256.6 314.3 h-3.0 M44.9 298.6 h-1.8 M256.6 298.6 h-1.8 M44.9 282.9 h-3.0 M256.6 282.9 h-3.0 M44.9 267.2 h-1.8 M256.6 267.2 h-1.8 M44.9 251.5 h-3.0 M256.6 251.5 h-3.0 M44.9 235.8 h-1.8 M256.6 235.8 h-1.8 M44.9 220.1 h-3.0 M256.6 220.1 h-3.0 M44.9 204.4 h-1.8 M256.6 204.4 h-1.8 M44.9 188.7 h-3.0 M256.6 188.7 h-3.0" stroke="#1a1a1a" stroke-width="1.3" fill="none"/>
<text x="33.3" y="194.3" font-size="11.5" text-anchor="middle">8</text>
<text x="33.3" y="227.3" font-size="11.5" text-anchor="middle">4</text>
<text x="33.3" y="257.7" font-size="11.5" text-anchor="middle">0</text>
<text x="33.3" y="290.0" font-size="11.5" text-anchor="middle">-4</text>
<text x="33.3" y="322.0" font-size="11.5" text-anchor="middle">-8</text>
<text x="48.3" y="342.9" font-size="9.8" text-anchor="middle">-0.3</text>
<text x="82.5" y="342.9" font-size="9.8" text-anchor="middle">-0.2</text>
<text x="116.7" y="342.9" font-size="9.8" text-anchor="middle">-0.1</text>
<text x="150.9" y="342.9" font-size="9.8" text-anchor="middle">0.0</text>
<text x="185.1" y="342.9" font-size="9.8" text-anchor="middle">0.1</text>
<text x="219.3" y="342.9" font-size="9.8" text-anchor="middle">0.2</text>
<text x="253.5" y="342.9" font-size="9.8" text-anchor="middle">0.3</text>
<text x="150.6" y="354.7" font-size="10.1" text-anchor="middle">Bais voltage (V)</text>
<text transform="translate(12.6 252.7) rotate(-90)" font-size="12.6" word-spacing="1.3" text-anchor="middle">Photocurrent (µA)</text>
<line x1="149" y1="268.0" x2="167.5" y2="268.0" stroke="#000000" stroke-width="1.8"/>
<text x="169" y="270.4" font-size="7.3" letter-spacing="0.12">3.59 nW</text>
<line x1="149" y1="277.6" x2="167.5" y2="277.6" stroke="#ff0000" stroke-width="1.8"/>
<text x="169" y="280.0" font-size="7.3" letter-spacing="0.12">7.19 nW</text>
<line x1="149" y1="287.2" x2="167.5" y2="287.2" stroke="#0000ff" stroke-width="1.8"/>
<text x="169" y="289.6" font-size="7.3" letter-spacing="0.12">14.7 nW</text>
<line x1="149" y1="296.8" x2="167.5" y2="296.8" stroke="#008080" stroke-width="1.8"/>
<text x="169" y="299.2" font-size="7.3" letter-spacing="0.12">29.2 nW</text>
<line x1="149" y1="306.4" x2="167.5" y2="306.4" stroke="#ff00ff" stroke-width="1.8"/>
<text x="169" y="308.8" font-size="7.3" letter-spacing="0.12">58.6 nW</text>
<line x1="149" y1="316.0" x2="167.5" y2="316.0" stroke="#808000" stroke-width="1.8"/>
<text x="169" y="318.4" font-size="7.3" letter-spacing="0.12">0.12 µW</text>
<line x1="203" y1="268.0" x2="221" y2="268.0" stroke="#000080" stroke-width="1.8"/>
<text x="222.6" y="270.4" font-size="7.3" letter-spacing="0.12">0.23 µW</text>
<line x1="203" y1="277.6" x2="221" y2="277.6" stroke="#800000" stroke-width="1.8"/>
<text x="222.6" y="280.0" font-size="7.3" letter-spacing="0.12">0.45 µW</text>
<line x1="203" y1="287.2" x2="221" y2="287.2" stroke="#ff8000" stroke-width="1.8"/>
<text x="222.6" y="289.6" font-size="7.3" letter-spacing="0.12">0.9 µW</text>
<line x1="203" y1="296.8" x2="221" y2="296.8" stroke="#00ff00" stroke-width="1.8"/>
<text x="222.6" y="299.2" font-size="7.3" letter-spacing="0.12">1.81 µW</text>
<line x1="203" y1="306.4" x2="221" y2="306.4" stroke="#8000ff" stroke-width="1.8"/>
<text x="222.6" y="308.8" font-size="7.3" letter-spacing="0.12">3.62 µW</text>
</g>
<g id="panel-d">
<text transform="translate(274.6 178.6) scale(0.95 1)" font-size="22.8">d</text>
<rect x="325.0" y="173.0" width="215.29999999999995" height="160.7" fill="none" stroke="#1a1a1a" stroke-width="1.45"/>
<path d="M325.0 333.7 v3.5 M325.0 173.0 v3.2 M341.2 333.7 v2.0 M341.2 173.0 v2.0 M350.7 333.7 v2.0 M350.7 173.0 v2.0 M357.4 333.7 v2.0 M357.4 173.0 v2.0 M362.6 333.7 v2.0 M362.6 173.0 v2.0 M366.9 333.7 v2.0 M366.9 173.0 v2.0 M370.5 333.7 v2.0 M370.5 173.0 v2.0 M373.6 333.7 v2.0 M373.6 173.0 v2.0 M376.4 333.7 v2.0 M376.4 173.0 v2.0 M378.8 333.7 v3.5 M378.8 173.0 v3.2 M395.0 333.7 v2.0 M395.0 173.0 v2.0 M404.5 333.7 v2.0 M404.5 173.0 v2.0 M411.2 333.7 v2.0 M411.2 173.0 v2.0 M416.5 333.7 v2.0 M416.5 173.0 v2.0 M420.7 333.7 v2.0 M420.7 173.0 v2.0 M424.3 333.7 v2.0 M424.3 173.0 v2.0 M427.4 333.7 v2.0 M427.4 173.0 v2.0 M430.2 333.7 v2.0 M430.2 173.0 v2.0 M432.7 333.7 v3.5 M432.7 173.0 v3.2 M448.9 333.7 v2.0 M448.9 173.0 v2.0 M458.3 333.7 v2.0 M458.3 173.0 v2.0 M465.1 333.7 v2.0 M465.1 173.0 v2.0 M470.3 333.7 v2.0 M470.3 173.0 v2.0 M474.5 333.7 v2.0 M474.5 173.0 v2.0 M478.2 333.7 v2.0 M478.2 173.0 v2.0 M481.3 333.7 v2.0 M481.3 173.0 v2.0 M484.0 333.7 v2.0 M484.0 173.0 v2.0 M486.5 333.7 v3.5 M486.5 173.0 v3.2 M502.7 333.7 v2.0 M502.7 173.0 v2.0 M512.2 333.7 v2.0 M512.2 173.0 v2.0 M518.9 333.7 v2.0 M518.9 173.0 v2.0 M524.1 333.7 v2.0 M524.1 173.0 v2.0 M528.4 333.7 v2.0 M528.4 173.0 v2.0 M532.0 333.7 v2.0 M532.0 173.0 v2.0 M535.1 333.7 v2.0 M535.1 173.0 v2.0 M537.9 333.7 v2.0 M537.9 173.0 v2.0 M540.3 333.7 v3.5 M540.3 173.0 v3.2 M325.0 333.1 h-2.0 M540.3 333.1 h-2.0 M325.0 328.5 h-2.0 M540.3 328.5 h-2.0 M325.0 324.8 h-2.0 M540.3 324.8 h-2.0 M325.0 321.6 h-2.0 M540.3 321.6 h-2.0 M325.0 318.9 h-2.0 M540.3 318.9 h-2.0 M325.0 316.5 h-2.0 M540.3 316.5 h-2.0 M325.0 314.3 h-3.2 M540.3 314.3 h-3.2 M325.0 300.1 h-2.0 M540.3 300.1 h-2.0 M325.0 291.8 h-2.0 M540.3 291.8 h-2.0 M325.0 285.9 h-2.0 M540.3 285.9 h-2.0 M325.0 281.3 h-2.0 M540.3 281.3 h-2.0 M325.0 277.6 h-2.0 M540.3 277.6 h-2.0 M325.0 274.5 h-2.0 M540.3 274.5 h-2.0 M325.0 271.7 h-2.0 M540.3 271.7 h-2.0 M325.0 269.3 h-2.0 M540.3 269.3 h-2.0 M325.0 267.1 h-3.2 M540.3 267.1 h-3.2 M325.0 253.0 h-2.0 M540.3 253.0 h-2.0 M325.0 244.7 h-2.0 M540.3 244.7 h-2.0 M325.0 238.8 h-2.0 M540.3 238.8 h-2.0 M325.0 234.2 h-2.0 M540.3 234.2 h-2.0 M325.0 230.5 h-2.0 M540.3 230.5 h-2.0 M325.0 227.3 h-2.0 M540.3 227.3 h-2.0 M325.0 224.6 h-2.0 M540.3 224.6 h-2.0 M325.0 222.2 h-2.0 M540.3 222.2 h-2.0 M325.0 220.0 h-3.2 M540.3 220.0 h-3.2 M325.0 205.8 h-2.0 M540.3 205.8 h-2.0 M325.0 197.5 h-2.0 M540.3 197.5 h-2.0 M325.0 191.6 h-2.0 M540.3 191.6 h-2.0 M325.0 187.0 h-2.0 M540.3 187.0 h-2.0 M325.0 183.3 h-2.0 M540.3 183.3 h-2.0 M325.0 180.2 h-2.0 M540.3 180.2 h-2.0 M325.0 177.4 h-2.0 M540.3 177.4 h-2.0 M325.0 175.0 h-2.0 M540.3 175.0 h-2.0" stroke="#1a1a1a" stroke-width="1.2" fill="none"/>
<polyline points="355,197.6 371.4,196.6 387.6,206.6 404,218 420.2,224 436.4,235.6 452.4,246 468.4,256 484.4,270.6 500.4,285 516.5,300.2" fill="none" stroke="#1a1aff" stroke-width="1.6"/>
<circle cx="355" cy="197.6" r="2.3" fill="#fff" stroke="#1a1aff" stroke-width="0.8"/>
<path d="M352.4 197.79999999999998 A2.6 2.6 0 0 1 357.6 197.79999999999998 Z" fill="#1a1aff"/>
<circle cx="371.4" cy="196.6" r="2.3" fill="#fff" stroke="#1a1aff" stroke-width="0.8"/>
<path d="M368.79999999999995 196.79999999999998 A2.6 2.6 0 0 1 374.0 196.79999999999998 Z" fill="#1a1aff"/>
<circle cx="387.6" cy="206.6" r="2.3" fill="#fff" stroke="#1a1aff" stroke-width="0.8"/>
<path d="M385.0 206.79999999999998 A2.6 2.6 0 0 1 390.20000000000005 206.79999999999998 Z" fill="#1a1aff"/>
<circle cx="404" cy="218" r="2.3" fill="#fff" stroke="#1a1aff" stroke-width="0.8"/>
<path d="M401.4 218.2 A2.6 2.6 0 0 1 406.6 218.2 Z" fill="#1a1aff"/>
<circle cx="420.2" cy="224" r="2.3" fill="#fff" stroke="#1a1aff" stroke-width="0.8"/>
<path d="M417.59999999999997 224.2 A2.6 2.6 0 0 1 422.8 224.2 Z" fill="#1a1aff"/>
<circle cx="436.4" cy="235.6" r="2.3" fill="#fff" stroke="#1a1aff" stroke-width="0.8"/>
<path d="M433.79999999999995 235.79999999999998 A2.6 2.6 0 0 1 439.0 235.79999999999998 Z" fill="#1a1aff"/>
<circle cx="452.4" cy="246" r="2.3" fill="#fff" stroke="#1a1aff" stroke-width="0.8"/>
<path d="M449.79999999999995 246.2 A2.6 2.6 0 0 1 455.0 246.2 Z" fill="#1a1aff"/>
<circle cx="468.4" cy="256" r="2.3" fill="#fff" stroke="#1a1aff" stroke-width="0.8"/>
<path d="M465.79999999999995 256.2 A2.6 2.6 0 0 1 471.0 256.2 Z" fill="#1a1aff"/>
<circle cx="484.4" cy="270.6" r="2.3" fill="#fff" stroke="#1a1aff" stroke-width="0.8"/>
<path d="M481.79999999999995 270.8 A2.6 2.6 0 0 1 487.0 270.8 Z" fill="#1a1aff"/>
<circle cx="500.4" cy="285" r="2.3" fill="#fff" stroke="#1a1aff" stroke-width="0.8"/>
<path d="M497.79999999999995 285.2 A2.6 2.6 0 0 1 503.0 285.2 Z" fill="#1a1aff"/>
<circle cx="516.5" cy="300.2" r="2.3" fill="#fff" stroke="#1a1aff" stroke-width="0.8"/>
<path d="M513.9 300.4 A2.6 2.6 0 0 1 519.1 300.4 Z" fill="#1a1aff"/>
<text transform="translate(317.4 178.5) scale(1.18 1)" font-size="9.8" text-anchor="end">10</text>
<text transform="translate(316.6 223.3) scale(1.18 1)" font-size="9.8" text-anchor="end">1</text>
<text transform="translate(319.8 270.7) scale(1.2 1)" font-size="9.8" text-anchor="end">0.1</text>
<text transform="translate(319.8 319.0) scale(1.24 1)" font-size="9.8" text-anchor="end">0.01</text>
<text transform="translate(312.4 169.1) scale(1.28 1)" font-size="10.4" text-anchor="start">×10<tspan font-size="7.8" dy="-4.3">2</tspan></text>
<text x="318.4" y="348.2" font-size="9.5">10<tspan font-size="6" dy="-3.9">-9</tspan></text>
<text x="372.2" y="348.2" font-size="9.5">10<tspan font-size="6" dy="-3.9">-8</tspan></text>
<text x="426.1" y="348.2" font-size="9.5">10<tspan font-size="6" dy="-3.9">-7</tspan></text>
<text x="479.9" y="348.2" font-size="9.5">10<tspan font-size="6" dy="-3.9">-6</tspan></text>
<text x="533.7" y="348.2" font-size="9.5">10<tspan font-size="6" dy="-3.9">-5</tspan></text>
<text x="429.1" y="361.8" font-size="10.1" text-anchor="middle">Optical power(W)</text>
<text transform="translate(298.4 252.9) rotate(-90)" font-size="11.7" word-spacing="0" text-anchor="middle">Responsivity (A/W)</text>
</g>
</svg></body></html>
